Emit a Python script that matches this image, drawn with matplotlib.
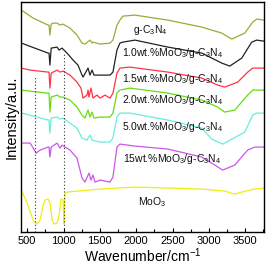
import numpy as np
import matplotlib
matplotlib.use("Agg")
import matplotlib.pyplot as plt
from matplotlib.ticker import MultipleLocator

plt.rcParams['font.family'] = ['Liberation Sans', 'DejaVu Sans']
plt.rcParams['mathtext.default'] = 'regular'

# spectra: wavenumber (cm-1), intensity (a.u., stacked)
gcn_wn = [420, 581, 787, 800, 812, 830, 856, 911, 952, 993, 1089, 1185, 1254, 1295, 1364, 1392, 1405,
          1502, 1639, 1680, 1735, 1776, 1818, 1983, 2436, 2903, 3178, 3315, 3494, 3604, 3659, 3755]
gcn_y = [222, 214, 207, 207, 197, 208, 209, 209, 207, 208, 204, 197, 189, 188, 192, 189, 190,
         188, 189, 192, 207, 212, 216, 217, 212, 205, 199, 193, 199, 210, 213, 212]

m10_wn = [420, 787, 800, 812, 830, 911, 938, 979, 1048, 1131, 1199, 1254, 1268, 1337, 1364, 1392, 1419,
          1502, 1639, 1680, 1735, 1776, 1818, 1983, 2436, 2903, 3178, 3288, 3453, 3590, 3659, 3755]
m10_y = [189, 179, 179, 167, 184, 185, 182, 184, 179, 172, 167, 157, 155, 164, 157, 162, 157,
         157, 157, 160, 182, 189, 190, 192, 185, 179, 169, 166, 174, 190, 192, 191]

m15_wn = [420, 540, 787, 800, 812, 830, 911, 952, 993, 1089, 1185, 1240, 1268, 1323, 1337, 1350, 1378,
          1405, 1460, 1502, 1570, 1639, 1680, 1735, 1776, 1914, 2436, 2903, 3123, 3219, 3398, 3535,
          3604, 3755]
m15_y = [164, 162, 160, 160, 144, 159, 162, 160, 161, 157, 150, 144, 134, 137, 142, 135, 144,
         134, 137, 134, 137, 134, 139, 159, 164, 165, 160, 154, 147, 145, 150, 160,
         164, 164]

m20_wn = [420, 773, 800, 812, 830, 911, 952, 993, 1089, 1185, 1254, 1295, 1337, 1364, 1392, 1419,
          1502, 1639, 1680, 1735, 1776, 1914, 2436, 2903, 3123, 3219, 3356, 3535, 3604, 3755]
m20_y = [142, 139, 139, 120, 135, 137, 135, 135, 132, 125, 117, 114, 122, 115, 120, 114,
         115, 115, 119, 139, 142, 144, 139, 132, 125, 120, 122, 137, 142, 142]

m50_wn = [420, 636, 787, 800, 812, 830, 911, 952, 993, 1089, 1185, 1254, 1323, 1364, 1392,
          1502, 1639, 1680, 1735, 1776, 1914, 2436, 2903, 3040, 3191, 3494, 3604, 3659, 3755]
m50_y = [119, 115, 112, 112, 99, 114, 115, 113, 114, 109, 104, 94, 92, 97, 92,
         90, 90, 94, 115, 119, 119, 112, 104, 93, 88, 100, 117, 119, 119]

m150_wn = [420, 540, 622, 677, 787, 800, 812, 830, 911, 952, 979, 1021, 1089, 1185, 1254, 1295, 1350,
           1378, 1405, 1433, 1502, 1639, 1680, 1735, 1776, 1983, 2436, 2903, 3082, 3191, 3356, 3535,
           3632, 3755]
m150_y = [89, 89, 79, 82, 85, 85, 75, 85, 89, 84, 87, 85, 82, 74, 54, 50, 59,
          52, 57, 50, 52, 50, 55, 85, 88, 86, 83, 75, 67, 62, 67, 82,
          85, 85]

moo3_wn = [420, 498, 581, 636, 677, 718, 746, 787, 815, 842, 870, 911, 938, 966, 993, 1000, 1007,
           1014, 1021, 1048, 1502, 1983, 2436, 2903, 3219, 3356, 3453, 3632, 3755]
moo3_y = [42, 29, 12, 8, 12, 27, 32, 33, 29, 12, 8, 9, 17, 33, 32, 20, 8,
          30, 39, 40, 43, 45, 44, 43, 41, 38, 40, 43, 44]

series = [
    (gcn_wn, gcn_y, '#9aab35', r'g-C$_3$N$_4$', 1955, 202),
    (m10_wn, m10_y, '#222222', r'1.0wt.%MoO$_3$/g-C$_3$N$_4$', 1804, 179),
    (m15_wn, m15_y, '#ff3344', r'1.5wt.%MoO$_3$/g-C$_3$N$_4$', 1804, 153),
    (m20_wn, m20_y, '#66dd11', r'2.0wt.%MoO$_3$/g-C$_3$N$_4$', 1804, 132),
    (m50_wn, m50_y, '#66eedd', r'5.0wt.%MoO$_3$/g-C$_3$N$_4$', 1804, 105),
    (m150_wn, m150_y, '#cc55ee', r'15wt.%MoO$_3$/g-C$_3$N$_4$', 1818, 73),
    (moo3_wn, moo3_y, '#eeee11', r'MoO$_3$', 2023, 30),
]

# reference lines for MoO3 bands
vline_wn = [610, 1000]
vline_top = [155, 179]

fig = plt.figure(figsize=(2.70, 2.64), dpi=100)
ax = fig.add_axes([0.078, 0.121, 0.9, 0.871])

for wn, y, c, lab, tx, ty in series:
    ax.plot(wn, y, color=c, lw=0.9)
    ax.text(tx, ty, lab, fontsize=7.5, va='center', ha='left', color='#111111')

for v, top in zip(vline_wn, vline_top):
    ax.plot([v, v], [0, top], color='#333333', lw=0.8, ls=(0, (1, 2)))

ax.set_xlim(415, 3760)
ax.set_ylim(0, 230)
ax.set_yticks([])
ax.xaxis.set_major_locator(MultipleLocator(500))
ax.xaxis.set_minor_locator(MultipleLocator(250))
ax.tick_params(axis='x', which='major', direction='in', length=3, width=0.8, labelsize=8, pad=3)
ax.tick_params(axis='x', which='minor', direction='in', length=2, width=0.8)
for s in ax.spines.values():
    s.set_linewidth(1.0)

ax.set_xlabel(r'Wavenumber/cm$^{-1}$', fontsize=10, labelpad=0)
ax.set_ylabel('Intensity/a.u.', fontsize=10.5, labelpad=2)

fig.savefig('out.png', dpi=100)
